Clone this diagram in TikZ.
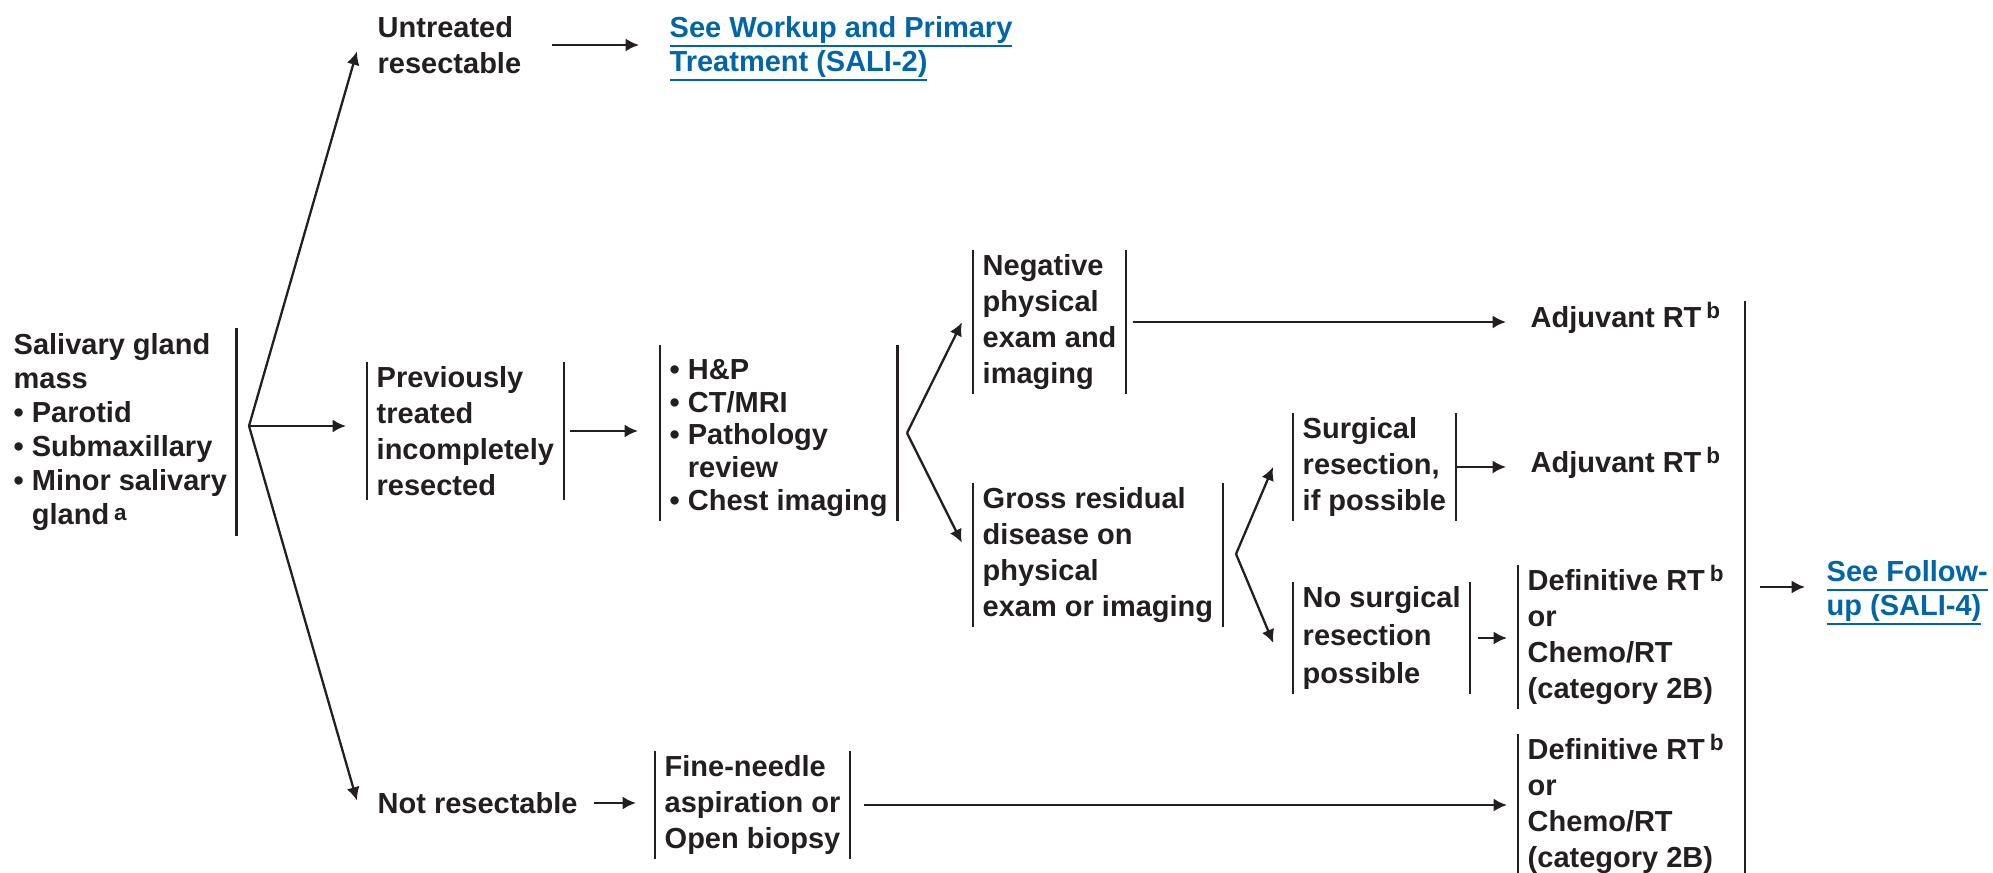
\documentclass[tikz,border=0pt]{standalone}
\usepackage{fontspec}
\setmainfont{Liberation Sans}
\usepackage{tikz}
\usetikzlibrary{arrows.meta}
\usetikzlibrary{calc}
\definecolor{ink}{HTML}{231F20}
\definecolor{linkblue}{HTML}{0066A8}
\tikzstyle{box}=[align=left,anchor=west,inner xsep=0.09cm,inner ysep=0.04cm,text=ink,font=\bfseries\fontsize{8.25}{10.2}\selectfont]
\tikzstyle{densebox}=[box,font=\bfseries\fontsize{8.25}{9.7}\selectfont]
\tikzstyle{linkbox}=[densebox,text=linkblue]
\tikzstyle{bar}=[draw=ink,line width=0.65pt]
\tikzstyle{edge}=[draw=ink,line width=0.65pt,-{Latex[length=3.8pt,width=3.7pt]}]
\newcommand{\bpt}{\textbullet\ }
\newcommand{\bind}{\hphantom{\textbullet\ }}
\newcommand{\ulink}[1]{\setbox0\hbox{#1}\rlap{\rule[-2.6pt]{\wd0}{0.65pt}}\box0}
\newcommand{\fn}[2]{\smash{\,\raisebox{#1}{\fontsize{6.4}{6.4}\selectfont #2}}}

\begin{document}
\begin{tikzpicture}
    \useasboundingbox (0,0) rectangle (19.93,-8.73);

    % text blocks
    \node[densebox] (mass) at (0.04,-4.32) {Salivary gland\\mass\\\bpt Parotid\\\bpt Submaxillary\\\bpt Minor salivary\\\bind gland\fn{1.2pt}{a}};
    \node[box] (untreated) at (3.68,-0.45) {Untreated\\resectable};
    \node[linkbox] (seewu) at (6.60,-0.49) {\ulink{See Workup and Primary}\\\ulink{Treatment (SALI-2)}};
    \node[box] (prev) at (3.67,-4.31) {Previously\\treated\\incompletely\\resected};
    \node[box, font=\bfseries\fontsize{8.25}{9.3}\selectfont] (hp) at (6.60,-4.38) {\bpt H\&P\\\bpt CT/MRI\\\bpt Pathology\\\bind review\\\bpt Chest imaging};
    \node[box] (neg) at (9.73,-3.22) {Negative\\physical\\exam and\\imaging};
    \node[box] (gross) at (9.73,-5.55) {Gross residual\\disease on\\physical\\exam or imaging};
    \node[box] (surg) at (12.93,-4.67) {Surgical\\resection,\\if possible};
    \node[box, font=\bfseries\fontsize{8.25}{10.7}\selectfont] (nosurg) at (12.93,-6.38) {No surgical\\resection\\possible};
    \node[box] (adj1) at (15.21,-3.20) {Adjuvant RT\fn{2.6pt}{b}};
    \node[box] (adj2) at (15.21,-4.65) {Adjuvant RT\fn{2.6pt}{b}};
    \node[box] (def1) at (15.18,-6.37) {Definitive RT\fn{2.6pt}{b}\\or\\Chemo/RT\\(category 2B)};
    \node[box] (def2) at (15.18,-8.06) {Definitive RT\fn{2.6pt}{b}\\or\\Chemo/RT\\(category 2B)};
    \node[box] (notres) at (3.68,-8.03) {Not resectable};
    \node[box] (fna) at (6.55,-8.05) {Fine-needle\\aspiration or\\Open biopsy};
    \node[linkbox] (followup) at (18.17,-5.93) {\ulink{See Follow-}\\\ulink{up (SALI-4)}};

    % brackets beside the blocks (hp bracket reaches a bit higher)
    \foreach \n/\up in {prev/0, hp/0.1, neg/0, gross/0, surg/0, nosurg/0, fna/0, def1/0, def2/0}
            \path[bar] ([yshift=\up cm]\n.north west) -- (\n.south west);
    \foreach \n/\up in {mass/0, prev/0, hp/0.1, neg/0, gross/0, surg/0, nosurg/0, fna/0}
            \path[bar] ([yshift=\up cm]\n.north east) -- (\n.south east);

    \coordinate (br1) at (2.49,-4.26);
    \coordinate (br2) at (9.07,-4.33);
    \coordinate (br3) at (12.36,-5.54);
    \coordinate (futop) at (17.45,-3.01);
    \coordinate (fubot) at (17.45,-8.73);
    \coordinate (fumid) at (17.45,-5.87);
    \path[bar] (futop) -- (fubot);

    % forks
    \foreach \source/\dest/\dy/\sb in {br1/untreated/0.32/0.40, br1/notres/-0.36/0.40, br2/neg/0.22/0.25, br2/gross/-0.10/0.25, br3/surg/0.47/0.51, br3/nosurg/-0.52/0.51}
            \path[edge, shorten >=\sb cm] (\source) -- ([yshift=\dy cm]\dest.west);

    % straight arrows
    \foreach \source/\dest/\sa/\sb in {untreated.east/seewu/0.21/0.21, br1/prev/0/0.21, prev.east/hp/0.06/0.22, neg.east/adj1/0.07/0.15, surg.east/adj2/0/0.15, nosurg.east/def1/0.08/0.11, notres.east/fna/0.07/0.19, fna.east/def2/0.14/0.11, fumid/followup/0.15/0.12}
            \path[edge, shorten <=\sa cm, shorten >=\sb cm] (\source) -- (\source -| \dest.west);

\end{tikzpicture}
\end{document}
